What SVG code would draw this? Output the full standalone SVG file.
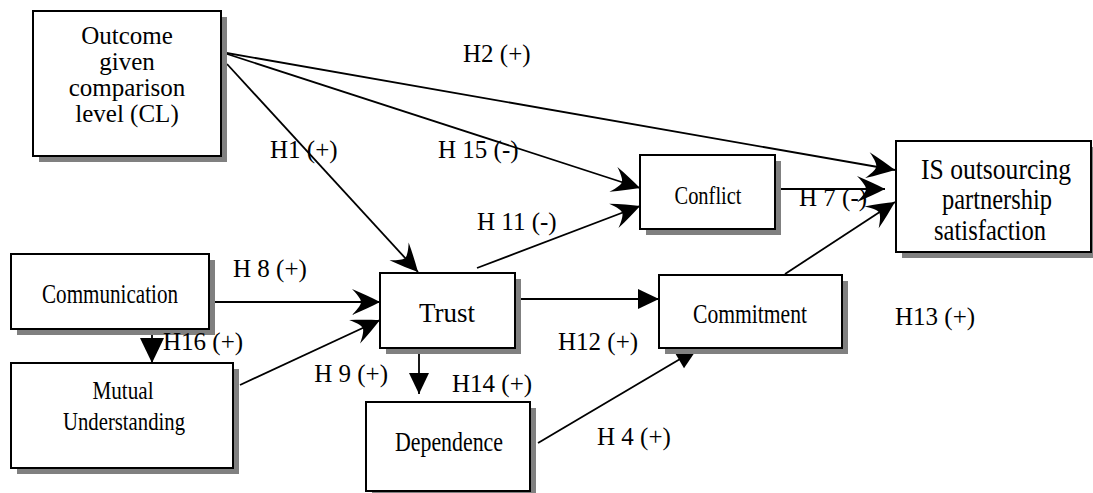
<svg xmlns="http://www.w3.org/2000/svg" width="1093" height="493" viewBox="0 0 1093 493">
<style>
.box{fill:#fff;stroke:#000;stroke-width:2}
.sh{fill:#808080}
.t{font-family:"Liberation Serif","Times New Roman",serif;fill:#000;text-anchor:middle}
.lbl{font-family:"Liberation Serif","Times New Roman",serif;font-size:25px;fill:#000}
.ln{stroke:#000;stroke-width:1.8;fill:none}
.barb{marker-end:url(#barb)}
.tri{marker-end:url(#tri)}
</style>
<defs>
<marker id="barb" markerUnits="userSpaceOnUse" viewBox="-30 -15 32 30" markerWidth="32" markerHeight="30" refX="0" refY="0" orient="auto" overflow="visible">
<path d="M0,0 C-8,-4 -18,-9 -28,-13 C-21,-6 -19,-2 -19,0 C-19,2 -21,6 -28,13 C-18,9 -8,4 0,0 Z" fill="#000"/>
</marker>
<marker id="tri" markerUnits="userSpaceOnUse" viewBox="-25 -12 26 24" markerWidth="26" markerHeight="24" refX="0" refY="0" orient="auto" overflow="visible">
<path d="M0,0 L-21,-10 L-21,10 Z" fill="#000"/>
</marker>
<marker id="tri2" markerUnits="userSpaceOnUse" viewBox="-27 -14 28 28" markerWidth="28" markerHeight="28" refX="0" refY="0" orient="auto" overflow="visible">
<path d="M0,0 L-25,-12 L-25,12 Z" fill="#000"/>
</marker>
</defs>

<g id="connectors">
<line class="ln barb" x1="221" y1="52" x2="895" y2="170"/>
<line class="ln barb" x1="221" y1="52" x2="640" y2="188"/>
<line class="ln barb" x1="227" y1="64" x2="418" y2="272"/>
<line class="ln barb" x1="477" y1="268" x2="640" y2="206"/>
<line class="ln barb" x1="215" y1="302" x2="380" y2="302"/>
<line class="ln barb" x1="240" y1="385" x2="380" y2="320"/>
<line class="ln barb" x1="775" y1="189" x2="885" y2="189"/>
<line class="ln barb" x1="785" y1="274" x2="895" y2="202"/>
<line class="ln tri" x1="515" y1="299" x2="659" y2="299"/>
<line class="ln tri" x1="419" y1="348" x2="419" y2="394"/>
<line class="ln tri" x1="538" y1="443" x2="697" y2="349"/>
<line class="ln" x1="152" y1="325" x2="152" y2="363" marker-end="url(#tri2)"/>
</g>

<g id="node-outcome">
<rect class="sh" x="39" y="17" width="188" height="145"/>
<rect class="box" x="33" y="11" width="188" height="145"/>
<text class="t" font-size="25" x="127" y="44">Outcome</text>
<text class="t" font-size="25" x="127" y="70">given</text>
<text class="t" font-size="25" x="127" y="96">comparison</text>
<text class="t" font-size="25" x="127" y="122">level (CL)</text>
</g>

<g id="node-communication">
<rect class="sh" x="17" y="260" width="198" height="75"/>
<rect class="box" x="11" y="254" width="198" height="75"/>
<text class="t" font-size="27" x="110" y="303" textLength="136" lengthAdjust="spacingAndGlyphs">Communication</text>
</g>

<g id="node-mutual">
<rect class="sh" x="17" y="369" width="222" height="105"/>
<rect class="box" x="11" y="363" width="222" height="105"/>
<text class="t" font-size="26" x="123" y="399" textLength="61" lengthAdjust="spacingAndGlyphs">Mutual</text>
<text class="t" font-size="26" x="124" y="430" textLength="122" lengthAdjust="spacingAndGlyphs">Understanding</text>
</g>

<g id="node-trust">
<rect class="sh" x="386" y="279" width="135" height="75"/>
<rect class="box" x="380" y="273" width="135" height="75"/>
<text class="t" font-size="27" x="447" y="322">Trust</text>
</g>

<g id="node-dependence">
<rect class="sh" x="372" y="408" width="164" height="88"/>
<rect class="box" x="366" y="402" width="164" height="89"/>
<text class="t" font-size="27" x="449" y="451" textLength="108" lengthAdjust="spacingAndGlyphs">Dependence</text>
</g>

<g id="node-conflict">
<rect class="sh" x="646" y="161" width="135" height="74"/>
<rect class="box" x="640" y="155" width="135" height="74"/>
<text class="t" font-size="26" x="708" y="204" textLength="67" lengthAdjust="spacingAndGlyphs">Conflict</text>
</g>

<g id="node-commitment">
<rect class="sh" x="665" y="281" width="183" height="73"/>
<rect class="box" x="659" y="275" width="183" height="73"/>
<text class="t" font-size="28" x="750" y="323" textLength="114" lengthAdjust="spacingAndGlyphs">Commitment</text>
</g>

<g id="node-satisfaction">
<rect class="sh" x="902" y="147" width="196" height="111"/>
<rect class="box" x="896" y="141" width="195" height="111"/>
<text class="t" font-size="29" x="996" y="179" textLength="150" lengthAdjust="spacingAndGlyphs">IS outsourcing</text>
<text class="t" font-size="29" x="997" y="209" textLength="110" lengthAdjust="spacingAndGlyphs">partnership</text>
<text class="t" font-size="29" x="990" y="240" textLength="112" lengthAdjust="spacingAndGlyphs">satisfaction</text>
</g>

<g id="labels">
<text class="lbl" x="463" y="62">H2 (+)</text>
<text class="lbl" x="270" y="158">H1 (+)</text>
<text class="lbl" x="438" y="158">H 15 (-)</text>
<text class="lbl" x="477" y="230">H 11 (-)</text>
<text class="lbl" x="799" y="206">H 7 (-)</text>
<text class="lbl" x="233" y="277">H 8 (+)</text>
<text class="lbl" x="163" y="350">H16 (+)</text>
<text class="lbl" x="388" y="382" text-anchor="end">H 9 (+)</text>
<text class="lbl" x="452" y="392">H14 (+)</text>
<text class="lbl" x="558" y="350">H12 (+)</text>
<text class="lbl" x="895" y="325">H13 (+)</text>
<text class="lbl" x="597" y="445">H 4 (+)</text>
</g>
</svg>
